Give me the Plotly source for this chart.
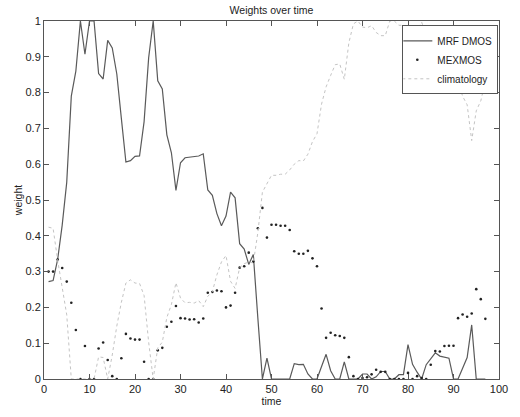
import plotly.graph_objects as go

time = list(range(1, 98))

mrf_dmos = [0.272, 0.275, 0.334, 0.43, 0.55, 0.79, 0.86, 1.0, 0.907, 1.0,
            1.0, 0.853, 0.838, 0.946, 0.925, 0.852, 0.728, 0.606, 0.61, 0.622,
            0.623, 0.719, 0.897, 1.0, 0.833, 0.81, 0.682, 0.632, 0.527, 0.604,
            0.618, 0.62, 0.621, 0.623, 0.629, 0.528, 0.513, 0.462, 0.428, 0.455,
            0.522, 0.506, 0.378, 0.363, 0.32, 0.348, 0.17, 0.0, 0.058, 0.0,
            0.0, 0.0, 0.0, 0.0, 0.043, 0.04, 0.041, 0.014, 0.0, 0.0,
            0.035, 0.069, 0.023, 0.0, 0.0, 0.048, 0.0, 0.0, 0.0, 0.014,
            0.014, 0.0, 0.006, 0.021, 0.021, 0.0, 0.0, 0.012, 0.012, 0.096,
            0.041, 0.019, 0.0, 0.04, 0.058, 0.073, 0.064, 0.061, 0.058, 0.0,
            0.0, 0.03, 0.06, 0.151, 0.0, 0.0, 0.0]

mexmos = [0.30, 0.30, 0.334, 0.31, 0.272, 0.213, 0.137, 0.0, 0.092, 0.0,
          0.0, 0.085, 0.102, 0.053, 0.008, 0.0, 0.058, 0.126, 0.113, 0.11,
          0.11, 0.048, 0.0, 0.0, 0.08, 0.087, 0.146, 0.16, 0.204, 0.17,
          0.169, 0.166, 0.167, 0.158, 0.169, 0.241, 0.243, 0.247, 0.245, 0.2,
          0.205, 0.241, 0.311, 0.315, 0.353, 0.328, 0.421, 0.478, 0.395, 0.431,
          0.431, 0.428, 0.428, 0.416, 0.357, 0.35, 0.35, 0.358, 0.337, 0.315,
          0.197, 0.115, 0.129, 0.122, 0.12, 0.115, 0.061, 0.008, 0.0, 0.003,
          0.005, 0.013, 0.026, 0.02, 0.02, 0.0, 0.0, 0.0, 0.0, 0.017,
          0.0, 0.008, 0.003, 0.0, 0.04, 0.078, 0.077, 0.092, 0.093, 0.093,
          0.17, 0.18, 0.174, 0.183, 0.251, 0.223, 0.168]

climatology = [0.424, 0.421, 0.332, 0.261, 0.179, 0.0, 0.0, 0.0, 0.0, 0.0,
               0.0, 0.062, 0.06, 0.0, 0.067, 0.148, 0.214, 0.268, 0.277, 0.268,
               0.267, 0.233, 0.103, 0.0, 0.087, 0.103, 0.172, 0.208, 0.269, 0.226,
               0.213, 0.214, 0.212, 0.219, 0.202, 0.231, 0.244, 0.291, 0.327, 0.345,
               0.273, 0.253, 0.311, 0.322, 0.327, 0.324, 0.409, 0.522, 0.547, 0.569,
               0.569, 0.572, 0.572, 0.584, 0.6, 0.61, 0.609, 0.628, 0.663, 0.685,
               0.768, 0.816, 0.848, 0.878, 0.88, 0.837, 0.939, 0.992, 1.0, 0.983,
               0.981, 0.987, 0.968, 0.959, 0.959, 1.0, 1.0, 0.988, 0.988, 0.887,
               0.959, 0.973, 0.997, 0.96, 0.902, 0.849, 0.859, 0.847, 0.849, 0.907,
               0.83, 0.79, 0.766, 0.666, 0.749, 0.777, 0.832]

x_ticks = [0, 10, 20, 30, 40, 50, 60, 70, 80, 90, 100]
x_tick_labels = ["0", "10", "20", "30", "40", "50", "60", "70", "80", "90", "100"]
y_ticks = [0, 0.1, 0.2, 0.3, 0.4, 0.5, 0.6, 0.7, 0.8, 0.9, 1]
y_tick_labels = ["0", "0.1", "0.2", "0.3", "0.4", "0.5", "0.6", "0.7", "0.8", "0.9", "1"]

FONT = "Liberation Sans, Arial, sans-serif"

fig = go.Figure()
fig.add_trace(go.Scatter(x=time, y=mrf_dmos, mode="lines", name="MRF DMOS",
                         line=dict(color="#5a5a5a", width=1.2)))
fig.add_trace(go.Scatter(x=time, y=mexmos, mode="markers", name="MEXMOS",
                         marker=dict(color="#222222", size=2.6)))
fig.add_trace(go.Scatter(x=time, y=climatology, mode="lines", name="climatology",
                         line=dict(color="#c4c4c4", width=1, dash="dot")))

axis_common = dict(showline=True, linecolor="#555555", linewidth=1, mirror="ticks",
                   ticks="inside", ticklen=5, tickcolor="#555555", showgrid=False,
                   zeroline=False, tickfont=dict(family=FONT, size=11, color="#222222"))

fig.update_layout(
    width=520, height=417,
    margin=dict(l=44, r=12, t=21, b=32),
    paper_bgcolor="white", plot_bgcolor="white",
    font=dict(family=FONT, color="#222222"),
    title=dict(text="Weights over time", x=0.5, xref="paper", y=1 - 10 / 417,
               yref="container", yanchor="middle", xanchor="center",
               font=dict(family=FONT, size=10.5, color="#222222")),
    xaxis=dict(range=[0, 100], tickvals=x_ticks, ticktext=x_tick_labels,
               title=dict(text="time", standoff=2, font=dict(family=FONT, size=10.5)),
               **axis_common),
    yaxis=dict(range=[0, 1], tickvals=y_ticks, ticktext=y_tick_labels,
               title=dict(text="weight", standoff=0, font=dict(family=FONT, size=10.5)),
               **axis_common),
    legend=dict(x=0.9985, y=0.988, xanchor="right", yanchor="top",
                bordercolor="#555555", borderwidth=1, bgcolor="white",
                font=dict(family=FONT, size=10, color="#222222"),
                tracegroupgap=0, itemwidth=30, indentation=-6),
    showlegend=True,
)

fig.write_html("out.html")
